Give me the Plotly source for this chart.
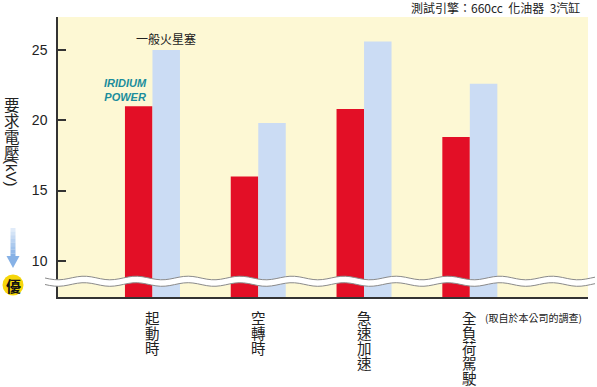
import numpy as np
import plotly.graph_objects as go

categories = ["起動時", "空轉時", "急速加速", "全負荷駕駛"]
iridium_values = [21.0, 16.0, 20.8, 18.8]
standard_values = [25.0, 19.8, 25.6, 22.6]
y_ticks = [10, 15, 20, 25]
series_names = ["IRIDIUM POWER", "一般火星塞"]

W, H = 597, 387
ML, MR, MT, MB = 58, 9, 17, 90
PW, PH = W - ML - MR, H - MT - MB

CJK = "Noto Sans CJK TC, Noto Sans CJK JP, sans-serif"
LAT = "Liberation Sans, Arial, sans-serif"


def px(x):
    return (x - ML) / PW


def py(y):
    return (H - MB - y) / PH


fig = go.Figure()
fig.add_trace(go.Bar(x=categories, y=iridium_values, name=series_names[0],
                     marker=dict(color="#e30f26", line=dict(width=0))))
fig.add_trace(go.Bar(x=categories, y=standard_values, name=series_names[1],
                     marker=dict(color="#cbdcf4", line=dict(width=0))))

fig.update_layout(
    width=W, height=H,
    margin=dict(l=ML, r=MR, t=MT, b=MB),
    paper_bgcolor="white",
    plot_bgcolor="#fdf8d4",
    showlegend=False,
    barmode="group",
    bargap=0.48,
    bargroupgap=0,
    font=dict(family=CJK, color="#222"),
)
fig.update_xaxes(
    range=[-0.893, 4.117], showticklabels=False, ticks="",
    showline=True, linecolor="#333", linewidth=1.5, showgrid=False, zeroline=False,
)
fig.update_yaxes(
    range=[7.42, 27.35], tickvals=y_ticks, ticks="inside", ticklen=8,
    tickcolor="#333", tickwidth=1.5, ticklabelstandoff=6,
    tickfont=dict(family=LAT, size=14, color="#222"),
    showline=True, linecolor="#333", linewidth=1.5, showgrid=False, zeroline=False,
)

# category labels as vertical stacked characters
for c in categories:
    for j, ch in enumerate(c):
        fig.add_annotation(x=c, y=0, yref="paper", yanchor="top", xanchor="center",
                           yshift=-(9 + 15 * j), text=ch, showarrow=False, borderpad=0,
                           font=dict(family=CJK, size=14.5, color="#222"))

# series labels
fig.add_annotation(x=categories[0], y=standard_values[0], xshift=14, yshift=1,
                   yanchor="bottom", text=series_names[1], showarrow=False,
                   font=dict(family=CJK, size=12, color="#222"))
fig.add_annotation(x=categories[0], y=iridium_values[0], xshift=-27, yshift=1,
                   yanchor="bottom", text="IRIDIUM<br>POWER", showarrow=False,
                   font=dict(family=LAT, size=11, color="#1b8d9c", weight="bold", style="italic"))

# header / footer notes
fig.add_annotation(x=px(582), y=py(8), xref="paper", yref="paper", xanchor="right",
                   yanchor="middle", text="測試引擎：660cc  化油器  3汽缸", showarrow=False,
                   font=dict(family=CJK, size=12, color="#222"))
fig.add_annotation(x=px(584), y=py(317), xref="paper", yref="paper", xanchor="right",
                   yanchor="middle", text="(取自於本公司的調查)", showarrow=False,
                   font=dict(family=CJK, size=10, color="#222"))

# y-axis title: stacked characters then rotated (kV)
for j, ch in enumerate("要求電壓"):
    fig.add_annotation(x=px(12), y=py(104 + 16 * j), xref="paper", yref="paper",
                       xanchor="center", yanchor="middle", text=ch, showarrow=False,
                       borderpad=0, font=dict(family=CJK, size=15.5, color="#222"))
fig.add_annotation(x=px(12), y=py(173), xref="paper", yref="paper", xanchor="center",
                   yanchor="middle", text="(kV)", textangle=90, showarrow=False,
                   borderpad=0, font=dict(family=LAT, size=15, color="#222"))

shapes = []
# gradient arrow
n = 8
top, bot = 228, 257
for i in range(n):
    y0 = top + (bot - top) * i / n
    y1 = top + (bot - top) * (i + 1) / n
    shapes.append(dict(type="rect", xref="paper", yref="paper",
                       x0=px(10.5), x1=px(15.5), y0=py(y1), y1=py(y0),
                       fillcolor="#86b1e6", opacity=0.15 + 0.85 * (i + 1) / n,
                       line=dict(width=0), layer="above"))
shapes.append(dict(type="path", xref="paper", yref="paper",
                   path=f"M {px(6.5)} {py(256)} L {px(19.5)} {py(256)} L {px(13)} {py(268)} Z",
                   fillcolor="#86b1e6", line=dict(width=0), layer="above"))
# yellow circle for 優
shapes.append(dict(type="circle", xref="paper", yref="paper",
                   x0=px(2.5), x1=px(23.5), y0=py(295.5), y1=py(274.5),
                   fillcolor="#f6d60a", line=dict(width=0), layer="above"))
fig.add_annotation(x=px(13), y=py(285), xref="paper", yref="paper", xanchor="center",
                   yanchor="middle", text="<b>優</b>", showarrow=False, borderpad=0,
                   font=dict(family=CJK, size=15, color="#111"))

# axis break (wavy white band)
xs = np.linspace(45, 595, 120)


def wave(y0):
    return y0 + 1.8 * np.sin(2 * np.pi * (xs - 45) / 52)


up, lo = wave(278), wave(284.5)
pts = [f"{px(a)} {py(b)}" for a, b in zip(xs, up)]
pts_lo = [f"{px(a)} {py(b)}" for a, b in zip(xs[::-1], lo[::-1])]
shapes.append(dict(type="path", xref="paper", yref="paper",
                   path="M " + " L ".join(pts + pts_lo) + " Z",
                   fillcolor="white", line=dict(width=0), layer="above"))
for arr in (up, lo):
    p = "M " + " L ".join(f"{px(a)} {py(b)}" for a, b in zip(xs, arr))
    shapes.append(dict(type="path", xref="paper", yref="paper", path=p,
                       line=dict(color="#8a8a8a", width=1), layer="above"))

fig.update_layout(shapes=shapes)
fig.write_html("out.html", config={"displayModeBar": False},
               post_script="document.body.style.margin='0';")
